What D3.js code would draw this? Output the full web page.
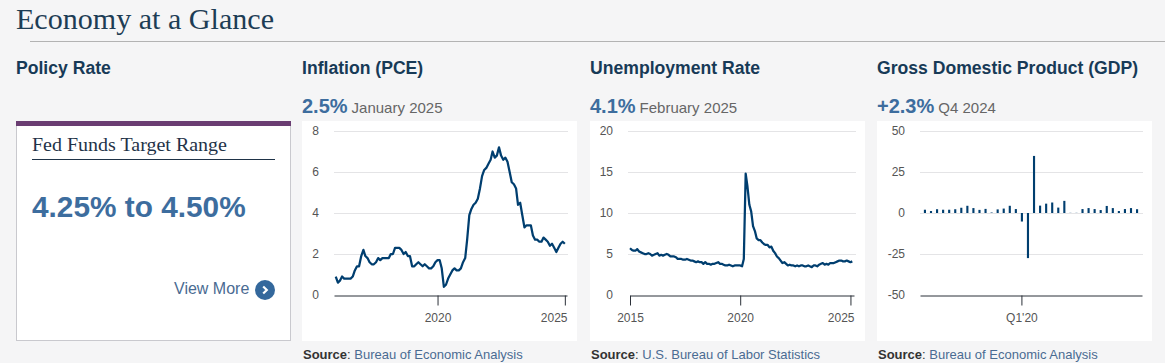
<!DOCTYPE html>
<html>
<head>
<meta charset="utf-8">
<title>Economy at a Glance</title>
<script src="https://cdn.jsdelivr.net/npm/d3@7"></script>
<style>
    html, body { margin: 0; padding: 0; background: #f5f5f6; overflow: hidden; }
    text { font-family: Arial, "Liberation Sans", sans-serif; }
    .serif { font-family: Georgia, "Liberation Serif", serif; }
    .grid line { stroke: #e4e4e6; stroke-width: 1; }
    .axis path, .axis line { stroke: #2b3038; stroke-width: 1; }
    .axis text, .ylabel { font-size: 12px; fill: #555; }
</style>
</head>
<body>
<div id="glance"></div>
<script>
var pceStart = [2016, 0];
var pceValues = [
    0.9, 0.6, 0.7, 0.9, 0.8, 0.8, 0.8, 0.8, 0.9, 1.2, 1.4, 1.4,
    1.9, 2.2, 1.9, 1.8, 1.6, 1.5, 1.5, 1.6, 1.8, 1.7, 1.8, 1.8,
    1.8, 1.8, 2.0, 2.0, 2.3, 2.3, 2.3, 2.2, 2.0, 2.1, 1.9, 1.9,
    1.4, 1.4, 1.5, 1.6, 1.5, 1.4, 1.5, 1.4, 1.3, 1.3, 1.4, 1.6,
    1.7, 1.7, 1.3, 0.4, 0.5, 0.8, 1.0, 1.2, 1.3, 1.2, 1.2, 1.3,
    1.6, 1.8, 2.7, 3.9, 4.2, 4.4, 4.5, 4.7, 5.2, 5.8, 6.1, 6.2,
    6.4, 6.6, 7.0, 6.7, 6.8, 7.2, 6.8, 6.6, 6.7, 6.5, 6.0, 5.5,
    5.4, 5.2, 4.4, 4.5, 3.9, 3.3, 3.4, 3.4, 3.4, 2.9, 2.7, 2.7,
    2.6, 2.6, 2.8, 2.7, 2.6, 2.4, 2.5, 2.3, 2.1, 2.3, 2.5, 2.6,
    2.5
];
var unempStart = [2015, 0];
var unempValues = [
    5.7, 5.5, 5.4, 5.4, 5.6, 5.3, 5.2, 5.1, 5.0, 5.0, 5.1, 5.0,
    4.8, 4.9, 5.0, 5.1, 4.8, 4.9, 4.8, 4.9, 5.0, 4.9, 4.7, 4.7,
    4.7, 4.6, 4.4, 4.4, 4.4, 4.3, 4.3, 4.4, 4.3, 4.2, 4.2, 4.1,
    4.0, 4.1, 4.0, 4.0, 3.8, 4.0, 3.8, 3.8, 3.7, 3.8, 3.8, 3.9,
    4.0, 3.8, 3.8, 3.7, 3.6, 3.6, 3.7, 3.6, 3.5, 3.6, 3.6, 3.6,
    3.6, 3.5, 4.4, 14.8, 13.2, 11.0, 10.2, 8.4, 7.8, 6.9, 6.7, 6.7,
    6.4, 6.2, 6.1, 6.1, 5.8, 5.9, 5.4, 5.1, 4.7, 4.5, 4.2, 3.9,
    4.0, 3.8, 3.6, 3.7, 3.6, 3.6, 3.5, 3.6, 3.5, 3.6, 3.6, 3.5,
    3.5, 3.6, 3.5, 3.4, 3.6, 3.6, 3.5, 3.7, 3.8, 3.9, 3.7, 3.8,
    3.7, 3.9, 3.9, 3.9, 4.0, 4.1, 4.2, 4.2, 4.1, 4.1, 4.2, 4.1,
    4.0, 4.1
];
var gdpQuarters = [
    "Q1'16", "Q2'16", "Q3'16", "Q4'16", "Q1'17", "Q2'17", "Q3'17", "Q4'17", "Q1'18",
    "Q2'18", "Q3'18", "Q4'18", "Q1'19", "Q2'19", "Q3'19", "Q4'19", "Q1'20", "Q2'20",
    "Q3'20", "Q4'20", "Q1'21", "Q2'21", "Q3'21", "Q4'21", "Q1'22", "Q2'22", "Q3'22",
    "Q4'22", "Q1'23", "Q2'23", "Q3'23", "Q4'23", "Q1'24", "Q2'24", "Q3'24", "Q4'24"
];
var gdpValues = [
    2.0, 1.2, 2.3, 2.0, 2.0, 2.3, 3.2, 4.4, 3.0, 1.9, 2.5, 0.3,
    2.2, 2.7, 4.4, 2.4, -5.2, -27.5, 34.8, 4.5, 5.7, 6.4, 3.3, 7.4,
    0.1, 0.1, 2.4, 3.0, 2.4, 1.8, 4.3, 3.0, 1.2, 2.4, 3.0, 2.3
];
var pceTicks = [0, 2, 4, 6, 8];
var unempTicks = [0, 5, 10, 15, 20];
var gdpTicks = [-50, -25, 0, 25, 50];

var NAVY = "#003e6f", HEAD = "#173a57", BLUE = "#3d6d9e", LINK = "#4a6b92";

var svg = d3.select("#glance").append("svg")
    .attr("width", 1165)
    .attr("height", 363)
    .style("display", "block");

// title
svg.append("text").attr("class", "serif")
    .attr("x", 16).attr("y", 29)
    .attr("font-size", 30).attr("fill", "#1d3d55")
    .attr("textLength", 258).attr("lengthAdjust", "spacingAndGlyphs")
    .text("Economy at a Glance");
svg.append("line")
    .attr("x1", 30).attr("x2", 1165).attr("y1", 41.5).attr("y2", 41.5)
    .attr("stroke", "#b3b3b3");

function header(x, title) {
    svg.append("text").attr("x", x).attr("y", 74)
        .attr("font-size", 17.6).attr("font-weight", "bold").attr("fill", HEAD)
        .text(title);
}

// policy rate card
header(16, "Policy Rate");
svg.append("rect").attr("x", 16.5).attr("y", 121.5).attr("width", 274).attr("height", 219)
    .attr("fill", "#fff").attr("stroke", "#c9c9ce");
svg.append("rect").attr("x", 16).attr("y", 121).attr("width", 275).attr("height", 5)
    .attr("fill", "#6a3d72");
svg.append("text").attr("class", "serif")
    .attr("x", 32).attr("y", 151)
    .attr("font-size", 19.5).attr("fill", "#1f3348")
    .attr("textLength", 195).attr("lengthAdjust", "spacingAndGlyphs")
    .text("Fed Funds Target Range");
svg.append("line").attr("x1", 32).attr("x2", 275).attr("y1", 159.5).attr("y2", 159.5)
    .attr("stroke", "#1f3348");
svg.append("text").attr("x", 32).attr("y", 217)
    .attr("font-size", 29.8).attr("font-weight", "bold").attr("fill", BLUE)
    .text("4.25% to 4.50%");
svg.append("text").attr("x", 174).attr("y", 294)
    .attr("font-size", 16).attr("fill", LINK)
    .text("View More");
var more = svg.append("g").attr("transform", "translate(265,290)");
more.append("circle").attr("r", 10).attr("fill", "#34689c");
more.append("path").attr("d", "M-1.8,-3.5L1.8,0L-1.8,3.5")
    .attr("fill", "none").attr("stroke", "#fff").attr("stroke-width", 2.2);

// shared frame of the three charts
function drawFrame(o) {
    header(o.panel, o.title);
    var stat = svg.append("text").attr("x", o.panel).attr("y", 113);
    stat.append("tspan").attr("font-size", 20).attr("font-weight", "bold").attr("fill", BLUE).text(o.stat);
    stat.append("tspan").attr("dx", 4).attr("font-size", 15).attr("fill", "#666").text(o.period);

    svg.append("rect").attr("x", o.panel).attr("y", 121).attr("width", 275).attr("height", 220)
        .attr("fill", "#fff");

    var y = d3.scaleLinear().domain(d3.extent(o.ticks)).range([295, 131]);

    var grid = svg.append("g").attr("class", "grid");
    grid.selectAll("line").data(o.ticks.slice(1)).enter().append("line")
        .attr("x1", o.gridLeft).attr("x2", o.gridRight)
        .attr("y1", function (d) { return Math.round(y(d)) + 0.5; })
        .attr("y2", function (d) { return Math.round(y(d)) + 0.5; });

    var yLabels = svg.append("g");
    yLabels.selectAll("text").data(o.ticks).enter().append("text")
        .attr("class", "ylabel")
        .attr("x", o.gridLeft - 15)
        .attr("y", function (d) { return y(d) + 4; })
        .attr("text-anchor", "end")
        .text(function (d) { return d; });

    var source = svg.append("text").attr("x", o.panel + 1).attr("y", 359).attr("font-size", 13);
    source.append("tspan").attr("font-weight", "bold").attr("fill", "#333").text("Source");
    source.append("tspan").attr("fill", "#333").text(": ");
    source.append("tspan").attr("fill", LINK).text(o.source);
    return y;
}

function drawBottomAxis(scale, ticks, fmt, shiftLast) {
    var axis = svg.append("g").attr("class", "axis")
        .attr("transform", "translate(0,295.5)")
        .call(d3.axisBottom(scale).tickValues(ticks).tickFormat(fmt)
            .tickSizeInner(10).tickSizeOuter(0).tickPadding(8));
    axis.select(".domain").attr("stroke", "#2b3038");
    axis.selectAll("text").attr("font-family", null);
    if (shiftLast) {
        // the last label is pulled in so it stays inside the plot
        axis.selectAll(".tick:last-of-type text")
            .attr("text-anchor", "end")
            .attr("x", scale.range()[1] - scale(ticks[ticks.length - 1]));
    }
}

function drawLineChart(o) {
    var y = drawFrame(o);
    var x = d3.scaleTime().domain(o.domain).range(o.range);
    var line = d3.line()
        .x(function (d, i) { return x(new Date(o.start[0], o.start[1] + i, 1)); })
        .y(function (d) { return y(d); });
    drawBottomAxis(x, o.xTicks, d3.timeFormat("%Y"), true);
    svg.append("path").datum(o.values)
        .attr("d", line)
        .attr("fill", "none")
        .attr("stroke", NAVY)
        .attr("stroke-width", 2.25)
        .attr("stroke-linejoin", "round");
}

drawLineChart({
    panel: 302, title: "Inflation (PCE)", stat: "2.5%", period: "January 2025",
    source: "Bureau of Economic Analysis",
    ticks: pceTicks, gridLeft: 334, gridRight: 568,
    start: pceStart, values: pceValues,
    domain: [new Date(2015, 11, 7), new Date(2025, 1, 1)], range: [334, 567],
    xTicks: [new Date(2020, 0, 1), new Date(2025, 0, 1)]
});

drawLineChart({
    panel: 590, title: "Unemployment Rate", stat: "4.1%", period: "February 2025",
    source: "U.S. Bureau of Labor Statistics",
    ticks: unempTicks, gridLeft: 628, gridRight: 856,
    start: unempStart, values: unempValues,
    domain: [new Date(2015, 0, 1), new Date(2025, 2, 1)], range: [630, 854],
    xTicks: [new Date(2015, 0, 1), new Date(2020, 0, 1), new Date(2025, 0, 1)]
});

// gdp bars
(function () {
    var y = drawFrame({
        panel: 877, title: "Gross Domestic Product (GDP)", stat: "+2.3%", period: "Q4 2024",
        source: "Bureau of Economic Analysis",
        ticks: gdpTicks, gridLeft: 920, gridRight: 1143
    });
    var x = d3.scaleBand().domain(gdpQuarters).range([920, 1142])
        .paddingInner(0.65).paddingOuter(0.64);
    drawBottomAxis(x, ["Q1'20"], function (d) { return d; }, false);
    svg.append("g").selectAll("rect").data(gdpValues).enter().append("rect")
        .attr("x", function (d, i) { return x(gdpQuarters[i]); })
        .attr("width", x.bandwidth())
        .attr("y", function (d) { return y(Math.max(d, 0)); })
        .attr("height", function (d) { return Math.abs(y(d) - y(0)); })
        .attr("fill", NAVY);
})();
</script>
</body>
</html>
